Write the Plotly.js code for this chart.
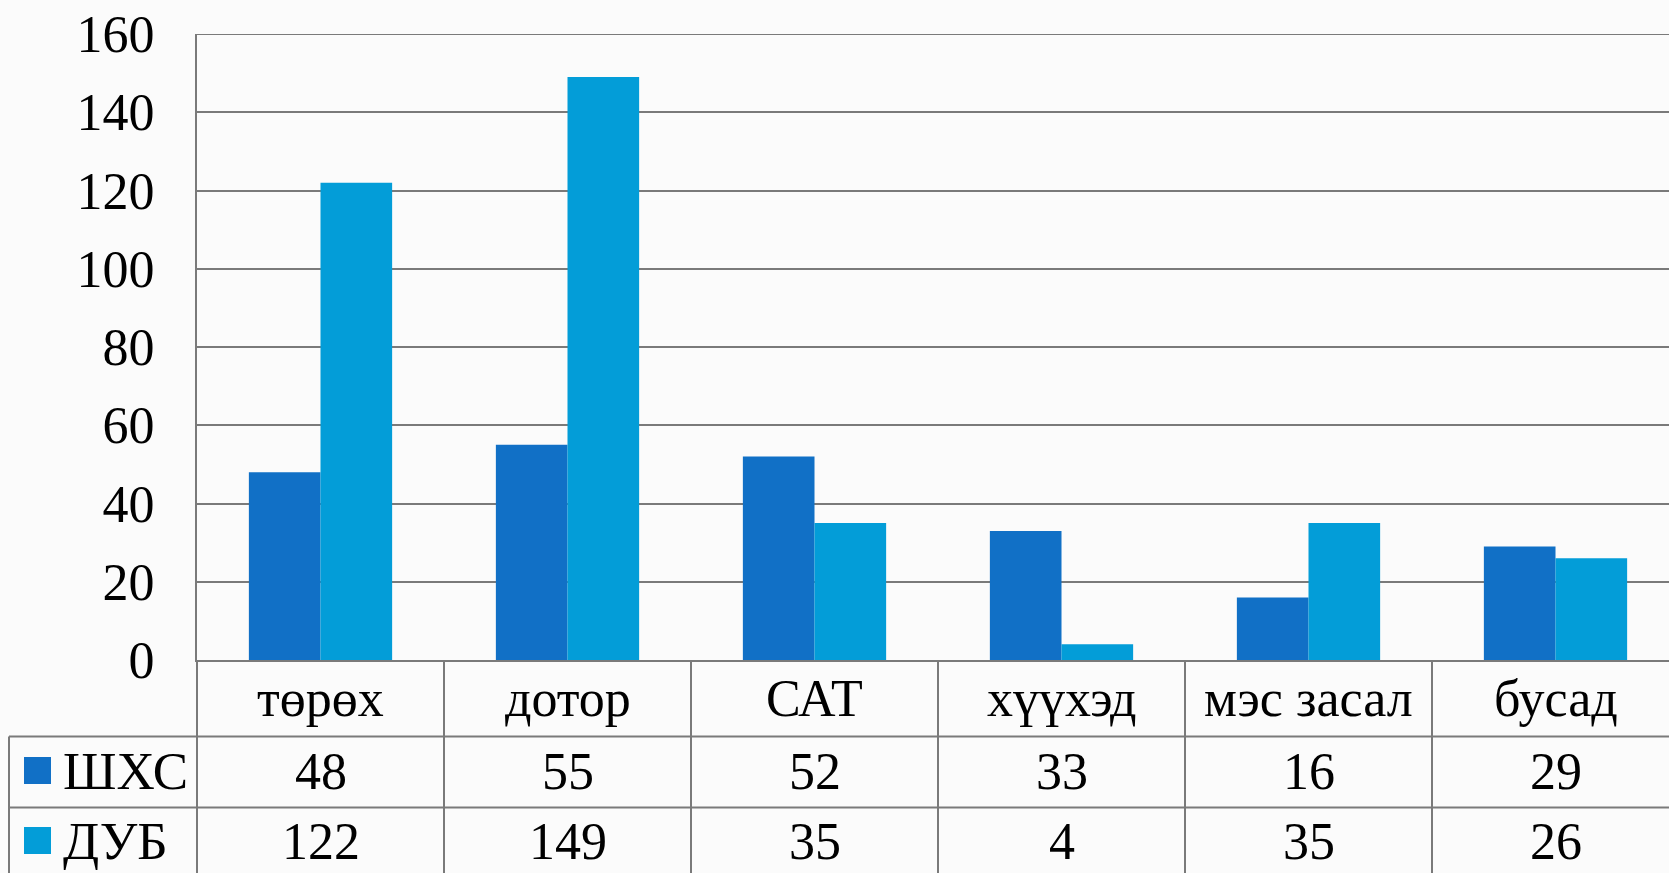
<!DOCTYPE html>
<html>
<head>
<meta charset="utf-8">
<script src="https://cdn.plot.ly/plotly-3.0.1.min.js"></script>
<style>
html,body{margin:0;padding:0;overflow:hidden;background:#fbfbfb;}
#chart{width:1680px;height:873px;}
</style>
</head>
<body>
<div id="chart"></div>
<script>
const categories = ["төрөх", "дотор", "САТ", "хүүхэд", "мэс засал", "бусад"];
const seriesNames = ["ШХС", "ДУБ"];
const shxs = [48, 55, 52, 33, 16, 29];
const dub = [122, 149, 35, 4, 35, 26];
const seriesValues = [shxs, dub];
const seriesColors = ["#1170c6", "#039dd8"];
const yTicks = [0, 20, 40, 60, 80, 100, 120, 140, 160];

const W = 1680, H = 873;
const L = 197, R = 1679, T = 34, B = 660;
const FONT = "Liberation Serif, Times New Roman, serif";
const FS = 52;
const GRID = "#7a7a7a";

const px = x => (x - L) / (R - L);
const py = y => (B - y) / (B - T);

const traces = seriesValues.map((vals, i) => ({
  type: "bar",
  name: seriesNames[i],
  x: categories,
  y: vals,
  marker: {color: seriesColors[i], line: {width: 0}},
  hoverinfo: "x+y+name"
}));

const shapes = [];
const annotations = [];
const lineStyle = {color: GRID, width: 2};

// top gridline at the maximum tick
shapes.push({type: "line", xref: "paper", yref: "y", x0: 0, x1: 1.01, y0: yTicks[yTicks.length - 1], y1: yTicks[yTicks.length - 1], line: lineStyle, layer: "below"});

// table vertical lines at category boundaries
for (let i = 0; i < categories.length; i++) {
  shapes.push({type: "line", xref: "x", yref: "paper", x0: i + 0.5, x1: i + 0.5, y0: 0, y1: py(H + 5), line: lineStyle, layer: "above"});
}
// y-axis line extension down through table
shapes.push({type: "line", xref: "paper", yref: "paper", x0: 0, x1: 0, y0: 0, y1: py(H + 5), line: lineStyle});
// left border of legend column
shapes.push({type: "line", xref: "paper", yref: "paper", x0: px(9), x1: px(9), y0: py(736.5), y1: py(H + 5), line: lineStyle});
// horizontal row lines
[736.5, 807.5].forEach(y => {
  shapes.push({type: "line", xref: "paper", yref: "paper", x0: px(9), x1: 1.01, y0: py(y), y1: py(y), line: lineStyle});
});

// category labels row
categories.forEach(c => {
  annotations.push({xref: "x", yref: "paper", x: c, y: py(698), text: c, showarrow: false,
    xanchor: "center", yanchor: "middle", font: {family: FONT, size: FS, color: "#000"}});
});

// series rows
const rowCenters = [771, 841];
const squareTops = [757, 827];
seriesValues.forEach((vals, s) => {
  vals.forEach((v, i) => {
    annotations.push({xref: "x", yref: "paper", x: categories[i], y: py(rowCenters[s]), text: String(v), showarrow: false,
      xanchor: "center", yanchor: "middle", font: {family: FONT, size: FS, color: "#000"}});
  });
  annotations.push({xref: "paper", yref: "paper", x: px(61), y: py(rowCenters[s]), text: seriesNames[s], showarrow: false,
    xanchor: "left", yanchor: "middle", font: {family: FONT, size: FS + 1, color: "#000"}});
  shapes.push({type: "rect", xref: "paper", yref: "paper", x0: px(24), x1: px(51), y0: py(squareTops[s]), y1: py(squareTops[s] + 27),
    fillcolor: seriesColors[s], line: {width: 0}});
});

const layout = {
  width: W, height: H,
  margin: {l: L, r: W - R, t: T, b: H - B, pad: 0},
  paper_bgcolor: "#fbfbfb",
  plot_bgcolor: "rgba(0,0,0,0)",
  barmode: "group",
  bargap: 0.42,
  bargroupgap: 0,
  showlegend: false,
  font: {family: FONT, size: FS, color: "#000"},
  xaxis: {
    type: "category",
    range: [-0.5, categories.length - 0.5],
    showticklabels: false,
    ticks: "",
    showgrid: false,
    zeroline: false,
    showline: true, linecolor: GRID, linewidth: 2,
    fixedrange: true
  },
  yaxis: {
    range: [0, 160],
    tickvals: yTicks,
    ticktext: yTicks.map(String),
    ticks: "",
    ticklabelstandoff: 30,
    tickfont: {family: FONT, size: FS, color: "#000"},
    showgrid: true, gridcolor: GRID, gridwidth: 2,
    zeroline: false,
    showline: true, linecolor: GRID, linewidth: 2,
    fixedrange: true
  },
  shapes: shapes,
  annotations: annotations
};

Plotly.newPlot("chart", traces, layout, {displayModeBar: false, staticPlot: true});
</script>
</body>
</html>
